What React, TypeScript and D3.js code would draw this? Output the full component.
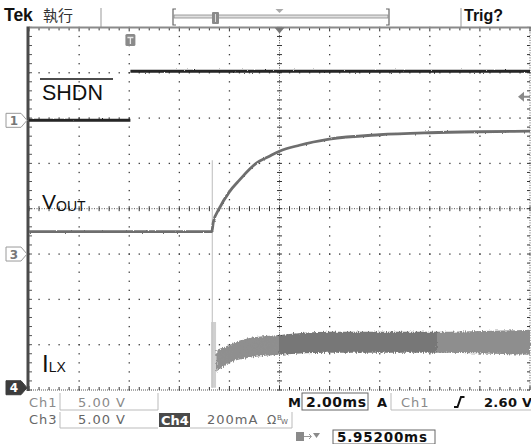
import React from "react";
import * as d3 from "d3";

const W = 531;
const H = 444;

// scope settings
const timePerDiv = 2; // ms/div
const horizPosition = 5.952; // ms at screen center
const xDivs = 10;
const yDivs = 8;
const ch1Scale = 5; // V/div
const ch3Scale = 5; // V/div
const ch4Scale = 200; // mA/div
const ch1Offset = 1.95; // div
const ch3Offset = -1.0;
const ch4Offset = -3.95;
const trigLevel = 2.6; // V on Ch1

// Ch1: SHDN (gap at the edge)
const shdnTime = [-4.048, 0, NaN, 0, 15.952];
const shdnVolts = [0, 0, NaN, 5.4, 5.4];

// Ch3: VOUT
const voutTime = [-4.048, 3.25, 3.31, 3.55, 3.95, 4.35, 5.03, 5.55, 5.95, 6.75, 7.94, 9.94, 11.94, 13.93, 15.952];
const voutVolts = [2.48, 2.48, 3.52, 5.03, 6.86, 8.15, 10.02, 10.79, 11.34, 12.0, 12.67, 13.16, 13.38, 13.49, 13.55];

// Ch4: ILX
const ilxBaseTime = [-4.048, 3.24];
const ilxBaseMa = [9, 9];
const ilxSpikeTime = 3.27;
const ilxSpikeMa = 1004;
const ilxBurstTime = [3.22, 3.42];
const ilxBurstMa = 290;
const ilxBandTime = [3.43, 3.95, 4.75, 5.95, 7.94, 11.94, 15.952];
const ilxBandLo = [70, 110, 132, 145, 154, 154, 145];
const ilxBandHi = [167, 189, 220, 233, 247, 247, 256];
const ilxDarkFrom = 5.95;
const ilxDarkTo = 12.22;

const GX0 = 29, GX1 = 530, GY0 = 27.4, GY1 = 390;

export default function App() {
  const tLeft = horizPosition - (timePerDiv * xDivs) / 2;
  const tRight = horizPosition + (timePerDiv * xDivs) / 2;
  const x = d3.scaleLinear().domain([tLeft, tRight]).range([GX0, GX1]);
  const xd = d3.scaleLinear().domain([0, xDivs]).range([GX0, GX1]);
  const yd = d3.scaleLinear().domain([0, yDivs]).range([GY0, GY1]);
  const yDiv = d3.scaleLinear().domain([-yDivs / 2, yDivs / 2]).range([GY1, GY0]);
  const y1 = (v: number) => yDiv(v / ch1Scale + ch1Offset);
  const y3 = (v: number) => yDiv(v / ch3Scale + ch3Offset);
  const y4 = (v: number) => yDiv(v / ch4Scale + ch4Offset);

  const shdnPts = shdnTime.map((t, i) => [t, shdnVolts[i]] as [number, number]);
  const shdnLine = d3
    .line<[number, number]>()
    .defined((d) => !isNaN(d[0]) && !isNaN(d[1]))
    .x((d) => x(d[0]))
    .y((d) => y1(d[1]));

  const voutPts = voutTime.map((t, i) => [t, voutVolts[i]] as [number, number]);
  const voutLine = d3
    .line<[number, number]>()
    .x((d) => x(d[0]))
    .y((d) => y3(d[1]))
    .curve(d3.curveMonotoneX);

  const basePts = ilxBaseTime.map((t, i) => [t, ilxBaseMa[i]] as [number, number]);
  const baseLine = d3.line<[number, number]>().x((d) => x(d[0])).y((d) => y4(d[1]));

  const bandPts = ilxBandTime.map((t, i) => ({ t, lo: ilxBandLo[i], hi: ilxBandHi[i] }));
  const bandArea = d3
    .area<{ t: number; lo: number; hi: number }>()
    .x((d) => x(d.t))
    .y0((d) => y4(d.lo))
    .y1((d) => y4(d.hi))
    .curve(d3.curveMonotoneX);

  // graticule dots
  const dots: JSX.Element[] = [];
  for (let i = 1; i < xDivs; i++) {
    if (i === xDivs / 2) continue;
    for (let j = 0; j <= yDivs * 5; j++) {
      dots.push(<rect key={`v${i}-${j}`} x={xd(i) - 0.6} y={yd(j / 5) - 0.6} width={1.3} height={1.3} fill="#3a3a3a" />);
    }
  }
  for (let j = 1; j < yDivs; j++) {
    if (j === yDivs / 2) continue;
    for (let i = 0; i <= xDivs * 5; i++) {
      dots.push(<rect key={`h${j}-${i}`} x={xd(i / 5) - 0.6} y={yd(j) - 0.6} width={1.3} height={1.3} fill="#3a3a3a" />);
    }
  }
  const cx = xd(xDivs / 2);
  const cy = yd(yDivs / 2);
  const ticks: JSX.Element[] = [];
  for (let j = 0; j <= yDivs * 5; j++) {
    const yy = yd(j / 5);
    ticks.push(<line key={`cv${j}`} x1={cx - 2.5} x2={cx + 2.5} y1={yy} y2={yy} stroke="#333" strokeWidth={1} />);
  }
  for (let i = 0; i <= xDivs * 5; i++) {
    const xx = xd(i / 5);
    ticks.push(<line key={`ch${i}`} x1={xx} x2={xx} y1={cy - 2.5} y2={cy + 2.5} stroke="#333" strokeWidth={1} />);
    ticks.push(<line key={`tt${i}`} x1={xx} x2={xx} y1={GY0} y2={GY0 + (i % 5 === 0 ? 4 : 3)} stroke="#333" strokeWidth={1} />);
    ticks.push(<line key={`tb${i}`} x1={xx} x2={xx} y1={GY1 - (i % 5 === 0 ? 4 : 3)} y2={GY1} stroke="#333" strokeWidth={1} />);
  }
  for (let j = 0; j <= yDivs * 5; j++) {
    const yy = yd(j / 5);
    ticks.push(<line key={`rr${j}`} x1={GX1 - 3} x2={GX1} y1={yy} y2={yy} stroke="#333" strokeWidth={1} />);
    ticks.push(<line key={`ll${j}`} x1={GX0} x2={GX0 + 3} y1={yy} y2={yy} stroke="#555" strokeWidth={1} />);
  }

  const marker = (yy: number, label: string, filled: boolean) => (
    <g key={label}>
      <path
        d={`M6,${yy - 7} L21,${yy - 7} L27,${yy} L21,${yy + 7} L6,${yy + 7} Z`}
        fill={filled ? "#3c3c3c" : "#fff"}
        stroke={filled ? "#3c3c3c" : "#9a9a9a"}
        strokeWidth={1}
      />
      <text x={14} y={yy + 4.5} textAnchor="middle" fontFamily="DejaVu Sans" fontWeight="bold" fontSize={12} fill={filled ? "#fff" : "#777"}>
        {label}
      </text>
    </g>
  );

  const trigY = y1(trigLevel);
  const bottomFont = { fontFamily: "DejaVu Sans", fontSize: 13, letterSpacing: 1 } as const;

  return (
    <svg width={W} height={H} style={{ position: "absolute", left: 0, top: 0, background: "#fff" }} viewBox={`0 0 ${W} ${H}`}>
      <rect x={0} y={0} width={W} height={H} fill="#fff" />
      <defs>
        <linearGradient id="bandGrad" gradientUnits="userSpaceOnUse" x1={x(tLeft)} x2={x(tRight)} y1={0} y2={0}>
          <stop offset={0} stopColor="#949494" />
          <stop offset={(x(ilxDarkFrom) - GX0) / (GX1 - GX0)} stopColor="#8e8e8e" />
          <stop offset={(x(ilxDarkFrom) - GX0) / (GX1 - GX0)} stopColor="#777" />
          <stop offset={(x(ilxDarkTo) - GX0) / (GX1 - GX0)} stopColor="#777" />
          <stop offset={(x(ilxDarkTo) - GX0) / (GX1 - GX0)} stopColor="#8e8e8e" />
          <stop offset={1} stopColor="#8e8e8e" />
        </linearGradient>
        <filter id="noise" x="-2%" y="-20%" width="104%" height="140%">
          <feTurbulence type="fractalNoise" baseFrequency="0.9 0.35" numOctaves={1} seed={3} result="t" />
          <feDisplacementMap in="SourceGraphic" in2="t" scale={5} xChannelSelector="R" yChannelSelector="G" />
        </filter>
        <filter id="noiseSmall" x="-2%" y="-30%" width="104%" height="160%">
          <feTurbulence type="fractalNoise" baseFrequency="0.9 0.6" numOctaves={1} seed={7} result="t" />
          <feDisplacementMap in="SourceGraphic" in2="t" scale={2.2} xChannelSelector="R" yChannelSelector="G" />
        </filter>
      </defs>

      {/* header */}
      <text x={4} y={21} fontFamily="Liberation Sans" fontWeight="bold" fontSize={17.5} fill="#111">Tek</text>
      <text x={43} y={21} fontFamily="Noto Sans CJK TC" fontSize={15} fill="#333">執行</text>
      <line x1={101} x2={101} y1={8} y2={27} stroke="#999" strokeWidth={1} />
      <line x1={461} x2={461} y1={8} y2={27} stroke="#999" strokeWidth={1} />
      <path d="M176,9 L173,9 L173,25 L176,25" fill="none" stroke="#666" strokeWidth={1.2} />
      <path d="M386,9 L389,9 L389,25 L386,25" fill="none" stroke="#666" strokeWidth={1.2} />
      <rect x={174} y={15} width={214} height={3} fill="#e0e0e0" stroke="#888" strokeWidth={0.8} />
      <rect x={212} y={12} width={7} height={12} rx={1} fill="#8a8a8a" />
      <line x1={215.5} x2={215.5} y1={14} y2={22} stroke="#ddd" strokeWidth={1} />
      <path d={`M${cx - 4},9 L${cx + 4},9 L${cx},13 Z`} fill="#aaa" />
      <text x={464} y={21} fontFamily="Liberation Sans" fontWeight="bold" fontSize={16} fill="#111">Trig?</text>

      {/* graticule */}
      {dots}
      <line x1={cx} x2={cx} y1={GY0} y2={GY1} stroke="#555" strokeWidth={1} strokeDasharray="1 1.5" />
      <line x1={GX0} x2={GX1} y1={cy} y2={cy} stroke="#555" strokeWidth={1} strokeDasharray="1 1.5" />
      {ticks}
      <line x1={GX0} x2={GX1 + 1} y1={GY0} y2={GY0} stroke="#8a8a8a" strokeWidth={2} />
      <line x1={GX0} x2={GX1 + 1} y1={GY1} y2={GY1} stroke="#555" strokeWidth={1} strokeDasharray="1 1" />
      <line x1={GX1} x2={GX1} y1={GY0} y2={GY1} stroke="#555" strokeWidth={1} strokeDasharray="1 1.5" />
      <line x1={GX0 - 1} x2={GX0 - 1} y1={GY0 - 1} y2={GY1 + 1} stroke="#4a4a4a" strokeWidth={3} />
      <path d={`M${cx - 5},${GY0} L${cx + 5},${GY0} L${cx},${GY0 + 6} Z`} fill="#777" />

      {/* trigger point marker */}
      <rect x={x(0) - 5} y={34} width={10} height={12} rx={1.5} fill="#8a8a8a" />
      <path d={`M${x(0) - 3},37.5 L${x(0) + 3},37.5 M${x(0)},37.5 L${x(0)},44`} stroke="#e8e8e8" strokeWidth={1.3} />

      {/* trigger level arrow */}
      <path d={`M${GX1 - 12},${trigY} L${GX1 - 6},${trigY - 5} L${GX1 - 6},${trigY + 5} Z`} fill="#8a8a8a" />
      <line x1={GX1 - 7} x2={GX1} y1={trigY} y2={trigY} stroke="#8a8a8a" strokeWidth={2} />

      {/* ILX */}
      <path d={baseLine(basePts) || ""} fill="none" stroke="#707070" strokeWidth={2.6} filter="url(#noiseSmall)" />
      <rect x={x(ilxBurstTime[0])} y={y4(ilxBurstMa)} width={x(ilxBurstTime[1]) - x(ilxBurstTime[0])} height={y4(0) - y4(ilxBurstMa)} fill="#cfcfcf" />
      <line x1={x(ilxSpikeTime)} x2={x(ilxSpikeTime)} y1={y4(0)} y2={y4(ilxSpikeMa)} stroke="#c8c8c8" strokeWidth={1.2} />
      <path d={bandArea(bandPts) || ""} fill="url(#bandGrad)" filter="url(#noise)" />

      {/* VOUT */}
      <path d={voutLine(voutPts) || ""} fill="none" stroke="#6e6e6e" strokeWidth={2.8} filter="url(#noiseSmall)" />

      {/* SHDN */}
      <path d={shdnLine(shdnPts) || ""} fill="none" stroke="#252525" strokeWidth={3} filter="url(#noiseSmall)" />

      {/* labels */}
      <line x1={40} x2={113} y1={79} y2={79} stroke="#111" strokeWidth={1.6} />
      <text x={42} y={100} fontFamily="Liberation Sans" fontSize={21.5} fill="#111">SHDN</text>
      <text x={42} y={209} fontFamily="Liberation Sans" fontSize={21} fill="#111">
        V<tspan fontSize={14} dy={2}>OUT</tspan>
      </text>
      <text x={42} y={372} fontFamily="Liberation Sans" fontSize={24} fill="#111">
        I<tspan fontSize={14} dy={0}>LX</tspan>
      </text>

      {/* channel markers */}
      {marker(y1(0), "1", false)}
      {marker(y3(0), "3", false)}
      {marker(y4(0), "4", true)}

      {/* bottom readout */}
      <text x={29} y={407} {...bottomFont} fill="#8a8a8a">Ch1</text>
      <path d="M60,393 L60,410 L158,410 L158,393" fill="none" stroke="#bbb" strokeWidth={1} />
      <text x={78} y={407} {...bottomFont} fill="#8a8a8a">5.00 V</text>

      <text x={288} y={407} {...bottomFont} fontWeight="bold" fill="#111">M</text>
      <rect x={302} y={393} width={66} height={17} fill="none" stroke="#666" strokeWidth={1} />
      <text x={306} y={407} {...bottomFont} fontSize={14} letterSpacing={0.5} fontWeight="bold" fill="#111">2.00ms</text>
      <text x={377} y={407} {...bottomFont} fontWeight="bold" fill="#111">A</text>
      <path d="M391,393 L391,410 L531,410" fill="none" stroke="#bbb" strokeWidth={1} />
      <text x={401} y={407} {...bottomFont} fill="#8a8a8a">Ch1</text>
      <path d="M454,407 L457.5,407 L461,397 L464.5,397" fill="none" stroke="#111" strokeWidth={2} />
      <text x={484} y={407} {...bottomFont} letterSpacing={0.3} fontWeight="bold" fill="#111">2.60 V</text>

      <text x={29} y={424} {...bottomFont} fill="#666">Ch3</text>
      <path d="M60,412 L60,428 L158,428" fill="none" stroke="#bbb" strokeWidth={1} />
      <text x={78} y={424} {...bottomFont} fill="#666">5.00 V</text>
      <rect x={159} y={413} width={31} height={14} fill="#4a4a4a" />
      <text x={161} y={424.5} {...bottomFont} letterSpacing={0} fontWeight="bold" fill="#fff">Ch4</text>
      <path d="M190,428 L292,428 L292,412" fill="none" stroke="#bbb" strokeWidth={1} />
      <text x={207} y={424} {...bottomFont} fill="#666">200mA</text>
      <text x={267} y={424} fontFamily="DejaVu Sans" fontSize={12} fill="#666">Ω</text>
      <text x={277} y={420} fontFamily="DejaVu Sans" fontSize={7} fill="#666">B</text>
      <text x={281} y={424} fontFamily="DejaVu Sans" fontSize={7} fill="#666">W</text>

      <rect x={296} y={432} width={8} height={9} fill="#8a8a8a" />
      <path d="M304,436.5 L311,436.5 M309,434 L311.5,436.5 L309,439" fill="none" stroke="#999" strokeWidth={1} />
      <path d="M313,433 L320,433 L316.5,438 Z" fill="#8a8a8a" />
      <rect x={333} y={430} width={102} height={14} fill="none" stroke="#666" strokeWidth={1} />
      <text x={337} y={441.5} {...bottomFont} fontSize={13.5} letterSpacing={0.8} fontWeight="bold" fill="#111">5.95200ms</text>
    </svg>
  );
}
